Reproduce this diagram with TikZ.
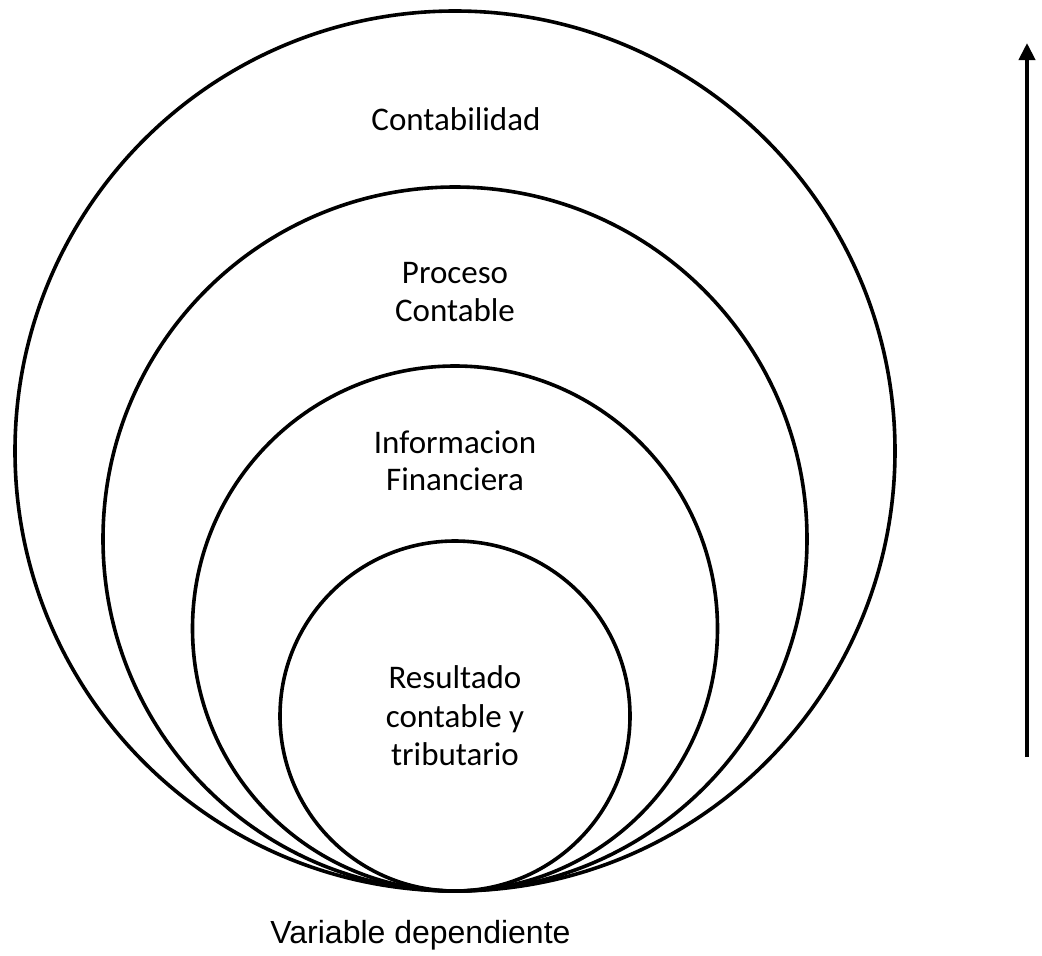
\documentclass[tikz,border=0pt]{standalone}
\usepackage{fontspec}
\setmainfont{Carlito}
\newfontfamily\arialf{Liberation Sans}
\usetikzlibrary{arrows.meta}
\begin{document}
\begin{tikzpicture}[x=1pt,y=-1pt,
  ring/.style={draw,circle,line width=3.6pt,inner sep=0pt,minimum size=#1},
  lbl/.style={anchor=base,inner sep=0pt,font=\fontsize{33}{38}\selectfont},
  foot/.style={anchor=base,inner sep=0pt,font=\arialf\fontsize{32}{38}\selectfont}]
\useasboundingbox (0,0) rectangle (1042,956);
% nested circles, all touching at the bottom point
\node[ring=880pt] (c1) at (455,451) {};
\node[ring=704pt] (c2) at (455,539) {};
\node[ring=525pt] (c3) at (455,628.5) {};
\node[ring=350pt] (c4) at (455,716) {};
% labels
\node[lbl] (t1) at (456,130) {Contabilidad};
\node[lbl] (t2a) at (455,283) {Proceso};
\node[lbl] (t2b) at (455,321) {Contable};
\node[lbl] (t3a) at (455,453) {Informacion};
\node[lbl] (t3b) at (455,490) {Financiera};
\node[lbl] (t4a) at (455,688) {Resultado};
\node[lbl] (t4b) at (455,727) {contable y};
\node[lbl] (t4c) at (455,765) {tributario};
\node[foot] (v) at (420.5,943) {Variable dependiente};
% vertical arrow on the right
\coordinate (a0) at (1027,757);
\coordinate (a1) at (1027,43);
\draw[line width=4pt,-{Triangle[width=16pt,length=17pt]}] (a0) -- (a1);
\end{tikzpicture}
\end{document}
